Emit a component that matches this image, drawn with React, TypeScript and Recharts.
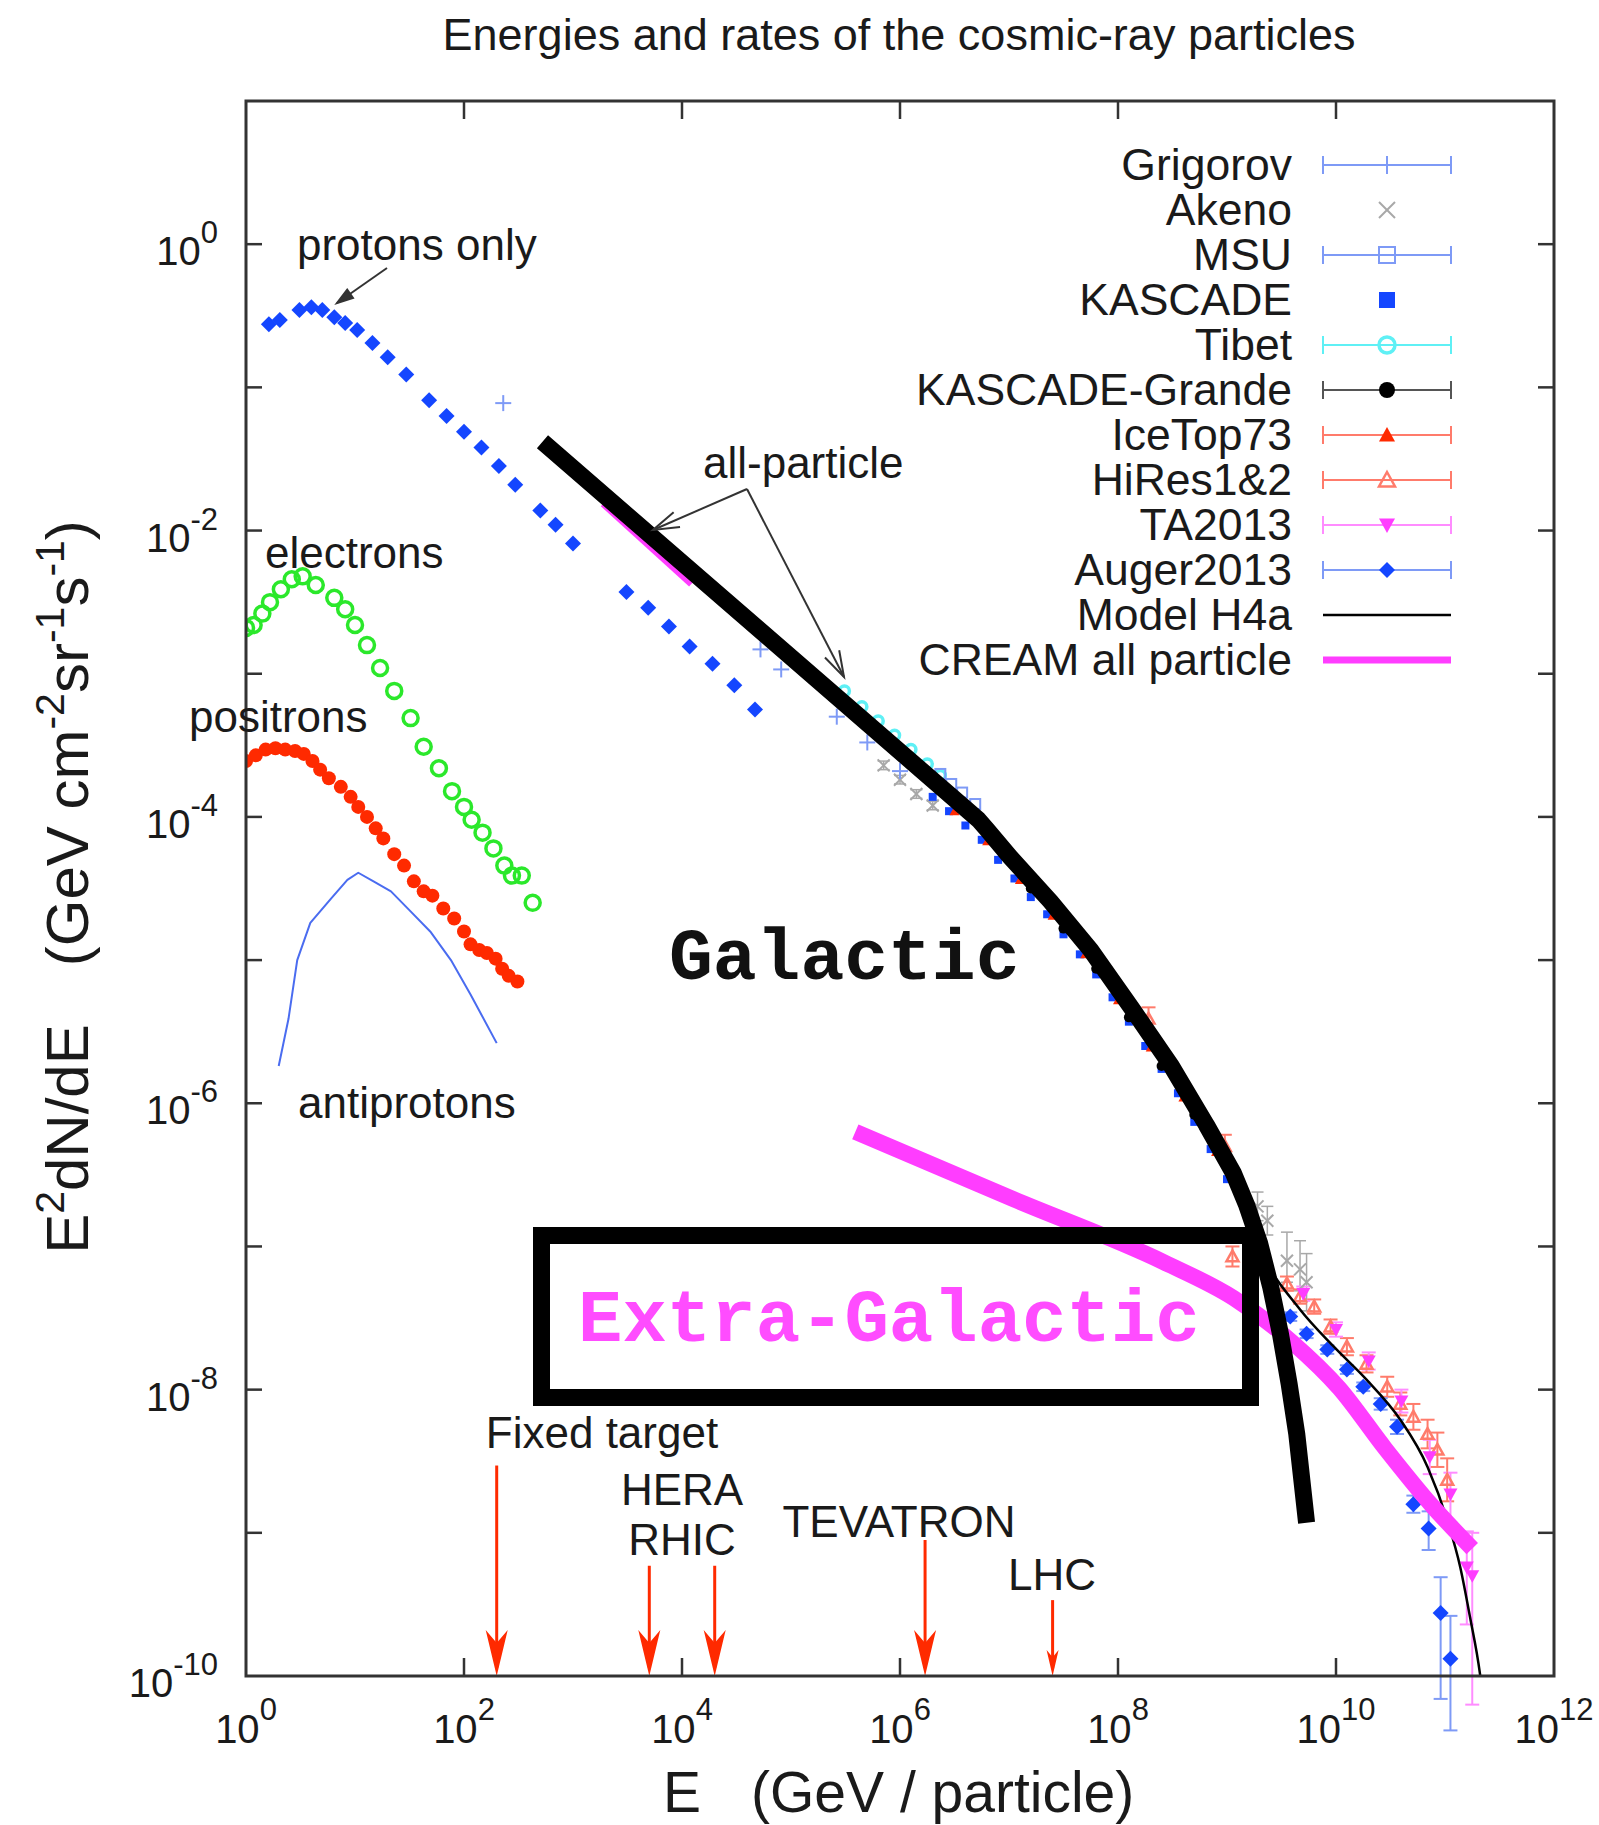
import React from 'react';
import { ComposedChart, Scatter, XAxis, YAxis, ErrorBar, ReferenceLine } from 'recharts';

// every value is a log10 exponent: [log10 E (GeV), log10 E^2 dN/dE, err low, err high]
const protons = [
  [0.21, -0.56], [0.31, -0.53], [0.49, -0.46], [0.6, -0.44], [0.7, -0.46], [0.81, -0.51],
  [0.91, -0.55], [1.02, -0.6], [1.16, -0.69], [1.3, -0.79], [1.47, -0.91], [1.68, -1.09],
  [1.84, -1.2], [2.0, -1.31], [2.16, -1.42], [2.32, -1.55], [2.47, -1.68], [2.7, -1.86],
  [2.84, -1.96], [3.0, -2.09],
  [3.49, -2.43], [3.69, -2.54], [3.88, -2.67], [4.07, -2.81], [4.28, -2.93], [4.48, -3.08], [4.67, -3.25],
];
const electrons = [
  [0.0, -2.68], [0.07, -2.66], [0.15, -2.58], [0.22, -2.5], [0.32, -2.41], [0.42, -2.34],
  [0.52, -2.32], [0.64, -2.38], [0.81, -2.47], [0.91, -2.55], [1.0, -2.66], [1.11, -2.8],
  [1.23, -2.96], [1.36, -3.12], [1.51, -3.31], [1.63, -3.51], [1.77, -3.66], [1.89, -3.82],
  [2.0, -3.93], [2.07, -4.02], [2.17, -4.11], [2.27, -4.22], [2.37, -4.34], [2.44, -4.41],
  [2.53, -4.41], [2.63, -4.6],
];
const positrons = [
  [0.0, -3.61], [0.09, -3.57], [0.18, -3.53], [0.27, -3.52], [0.36, -3.53], [0.45, -3.54],
  [0.53, -3.56], [0.61, -3.61], [0.68, -3.67], [0.76, -3.73], [0.87, -3.79], [0.96, -3.86],
  [1.03, -3.93], [1.11, -4.0], [1.19, -4.08], [1.26, -4.15], [1.36, -4.26], [1.45, -4.34],
  [1.54, -4.45], [1.63, -4.52], [1.71, -4.55], [1.81, -4.64], [1.91, -4.71], [2.0, -4.8],
  [2.06, -4.89], [2.14, -4.93], [2.21, -4.95], [2.29, -4.99], [2.35, -5.06], [2.41, -5.11], [2.49, -5.15],
];
const antiprotons = [
  [0.3, -5.74], [0.39, -5.41], [0.47, -5.0], [0.59, -4.74], [0.78, -4.57], [0.93, -4.44],
  [1.03, -4.39], [1.17, -4.45], [1.33, -4.52], [1.51, -4.66], [1.69, -4.8], [1.88, -5.0],
  [2.06, -5.24], [2.3, -5.58],
];
const allParticle = [
  [2.72, -1.38], [6.72, -4.02], [6.8, -4.09], [7.01, -4.28], [7.38, -4.59], [7.75, -4.93],
  [8.12, -5.33], [8.49, -5.74], [8.81, -6.15], [9.06, -6.49], [9.18, -6.71], [9.3, -6.98],
  [9.4, -7.28], [9.49, -7.61], [9.57, -7.96], [9.64, -8.31], [9.73, -8.93],
];
const modelH4a = [
  [6.72, -4.02], [7.38, -4.59], [8.12, -5.33], [8.81, -6.15], [9.12, -6.68], [9.3, -7.02],
  [9.67, -7.44], [9.98, -7.7], [10.28, -7.93], [10.59, -8.21], [10.84, -8.54], [11.02, -8.91],
  [11.14, -9.24], [11.23, -9.59], [11.32, -9.98], [11.34, -10.1],
];
const extraGalactic = [
  [5.59, -6.2], [7.04, -6.67], [8.42, -7.11], [9.06, -7.36], [9.6, -7.67], [10.03, -7.99],
  [10.45, -8.41], [10.88, -8.81], [11.25, -9.11],
];
const cream = [[3.28, -1.81], [4.09, -2.37]];
const grigorov = [[2.36, -1.11], [4.72, -2.83], [4.91, -2.97], [5.42, -3.3], [5.7, -3.48], [6.0, -3.68]];
const akeno = [
  [5.85, -3.64], [6.0, -3.74], [6.15, -3.84], [6.3, -3.92],
  [9.28, -6.72, 0.1, 0.1], [9.37, -6.82, 0.1, 0.1], [9.55, -7.1, 0.15, 0.2], [9.67, -7.16, 0.15, 0.2], [9.73, -7.25, 0.2, 0.2],
];
const msu = [[6.37, -3.7], [6.47, -3.77], [6.57, -3.83], [6.69, -3.91]];
const tibet = [[5.49, -3.12], [5.65, -3.23], [5.8, -3.33], [5.95, -3.43], [6.1, -3.53], [6.25, -3.63], [6.37, -3.71]];
const kascade = [
  [6.3, -3.86], [6.45, -3.96], [6.6, -4.06], [6.75, -4.16], [6.9, -4.3], [7.05, -4.43],
  [7.2, -4.56], [7.35, -4.68], [7.5, -4.82], [7.65, -4.96], [7.8, -5.1], [7.95, -5.26],
  [8.1, -5.43], [8.25, -5.6], [8.4, -5.76], [8.55, -5.93], [8.7, -6.13], [8.85, -6.32], [9.0, -6.53],
];
const kascadeGrande = [[7.2, -4.5], [7.5, -4.78], [7.8, -5.06], [8.1, -5.4], [8.4, -5.74], [8.7, -6.08]];
const iceTop = [
  [6.5, -3.96], [6.8, -4.17], [7.1, -4.44], [7.4, -4.69], [7.7, -4.96], [8.0, -5.28],
  [8.3, -5.61], [8.6, -5.96], [8.9, -6.34],
];
const hires = [
  [8.28, -5.41, 0.08, 0.08], [8.98, -6.3, 0.08, 0.08], [9.05, -7.07, 0.07, 0.07], [9.55, -7.26, 0.05, 0.05],
  [9.67, -7.35, 0.05, 0.05], [9.8, -7.42, 0.05, 0.05], [9.95, -7.56, 0.05, 0.05], [10.1, -7.7, 0.06, 0.06],
  [10.28, -7.82, 0.06, 0.06], [10.47, -7.98, 0.07, 0.07], [10.59, -8.1, 0.08, 0.08], [10.71, -8.19, 0.09, 0.09],
  [10.84, -8.31, 0.1, 0.1], [10.93, -8.42, 0.12, 0.12], [11.02, -8.63, 0.15, 0.15],
];
const ta2013 = [
  [9.7, -7.33, 0.05, 0.05], [10.0, -7.58, 0.05, 0.05], [10.3, -7.8, 0.06, 0.06], [10.6, -8.08, 0.08, 0.08],
  [10.86, -8.47, 0.12, 0.12], [11.05, -8.73, 0.2, 0.15], [11.2, -9.24, 0.4, 0.25], [11.25, -9.3, 0.9, 0.3],
];
const auger = [
  [9.43, -7.4, 0.03, 0.03], [9.58, -7.49, 0.03, 0.03], [9.73, -7.61, 0.03, 0.03], [9.92, -7.72, 0.03, 0.03],
  [10.1, -7.86, 0.03, 0.03], [10.25, -7.98, 0.03, 0.03], [10.41, -8.1, 0.04, 0.04], [10.56, -8.26, 0.05, 0.05],
  [10.71, -8.8, 0.06, 0.06], [10.85, -8.97, 0.15, 0.12], [10.96, -9.56, 0.6, 0.25], [11.05, -9.88, 0.5, 0.3],
];
const accelerators = [
  { name: 'Fixed target', e: 2.3, top: -8.53 },
  { name: 'HERA', e: 3.7, top: -9.23 },
  { name: 'RHIC', e: 4.3, top: -9.23 },
  { name: 'TEVATRON', e: 6.23, top: -9.05 },
  { name: 'LHC', e: 7.4, top: -9.47 },
];
const xTicks = [0, 2, 4, 6, 8, 10, 12];
const yTicks = [-10, -9, -8, -7, -6, -5, -4, -3, -2, -1, 0];

const BLUE = '#1446ff';
const LIGHTBLUE = '#7e9af6';
const GREEN = '#2be82b';
const RED = '#ff2a00';
const MAGENTA = '#ff3dff';
const CYAN = '#5ff0f5';
const GRAY = '#a8a8a8';
const SALMON = '#ff7b6b';
const PINK = '#ff8cff';
const INK = '#1a1a1a';
const SANS = '"Liberation Sans", Arial, Helvetica, sans-serif';
const MONO = '"Liberation Mono", "Courier New", monospace';

const PL = 246, PR = 1554, PT = 101, PB = 1676;
const W = 1599, H = 1825;

const legendItems = [
  { name: 'Grigorov', bar: LIGHTBLUE, marker: 'tick', color: LIGHTBLUE },
  { name: 'Akeno', marker: 'x', color: GRAY },
  { name: 'MSU', bar: LIGHTBLUE, marker: 'squareOpen', color: LIGHTBLUE },
  { name: 'KASCADE', marker: 'square', color: BLUE },
  { name: 'Tibet', bar: CYAN, marker: 'circleOpen', color: CYAN },
  { name: 'KASCADE-Grande', bar: '#555', marker: 'dot', color: '#000' },
  { name: 'IceTop73', bar: SALMON, marker: 'tri', color: RED },
  { name: 'HiRes1&2', bar: SALMON, marker: 'triOpen', color: SALMON },
  { name: 'TA2013', bar: PINK, marker: 'triDown', color: MAGENTA },
  { name: 'Auger2013', bar: LIGHTBLUE, marker: 'diamond', color: BLUE },
  { name: 'Model H4a', line: '#000', width: 2.5 },
  { name: 'CREAM all particle', line: MAGENTA, width: 7 },
];

const pts = (a: number[][]) => a.map(([x, y, lo, hi]) => ({ x, y, err: [lo ?? 0.03, hi ?? 0.03] }));

function mark(kind: string, cx: number, cy: number, color: string, s: number) {
  switch (kind) {
    case 'diamond':
      return <polygon points={`${cx},${cy - s} ${cx + s},${cy} ${cx},${cy + s} ${cx - s},${cy}`} fill={color} />;
    case 'dot':
      return <circle cx={cx} cy={cy} r={s} fill={color} />;
    case 'circleOpen':
      return <circle cx={cx} cy={cy} r={s} fill="none" stroke={color} strokeWidth={3.5} />;
    case 'square':
      return <rect x={cx - s} y={cy - s} width={2 * s} height={2 * s} fill={color} />;
    case 'squareOpen':
      return <rect x={cx - s} y={cy - s} width={2 * s} height={2 * s} fill="none" stroke={color} strokeWidth={2} />;
    case 'tri':
      return <polygon points={`${cx},${cy - s} ${cx + s},${cy + s * 0.8} ${cx - s},${cy + s * 0.8}`} fill={color} />;
    case 'triOpen':
      return <polygon points={`${cx},${cy - s} ${cx + s},${cy + s * 0.8} ${cx - s},${cy + s * 0.8}`} fill="none" stroke={color} strokeWidth={2.5} />;
    case 'triDown':
      return <polygon points={`${cx},${cy + s} ${cx + s},${cy - s * 0.8} ${cx - s},${cy - s * 0.8}`} fill={color} />;
    case 'x':
      return (
        <g stroke={color} strokeWidth={2}>
          <line x1={cx - s} y1={cy - s} x2={cx + s} y2={cy + s} />
          <line x1={cx - s} y1={cy + s} x2={cx + s} y2={cy - s} />
        </g>
      );
    case 'plus':
      return (
        <g stroke={color} strokeWidth={2}>
          <line x1={cx - s} y1={cy} x2={cx + s} y2={cy} />
          <line x1={cx} y1={cy - s} x2={cx} y2={cy + s} />
        </g>
      );
    case 'tick':
      return <line x1={cx} y1={cy - s} x2={cx} y2={cy + s} stroke={color} strokeWidth={2} />;
    default:
      return <g />;
  }
}

const shapeOf = (kind: string, color: string, s: number) => (p: any) => mark(kind, p.cx, p.cy, color, s);
const noShape = () => <g />;

function XTick(props: any) {
  const { x, payload } = props;
  const n = payload.value;
  return (
    <g>
      <text x={x} y={1743} textAnchor="middle" fontSize={40} fill={INK} fontFamily={SANS}>
        10<tspan dy={-23} fontSize={31}>{n}</tspan>
      </text>
      {n > 0 && n < 12 && (
        <g stroke="#333" strokeWidth={2.5}>
          <line x1={x} y1={PB} x2={x} y2={PB - 18} />
          <line x1={x} y1={PT} x2={x} y2={PT + 18} />
        </g>
      )}
    </g>
  );
}

function YTick(props: any) {
  const { y, payload } = props;
  const n = payload.value;
  return (
    <g>
      {n % 2 === 0 && (
        <text x={218} y={y + 21} textAnchor="end" fontSize={40} fill={INK} fontFamily={SANS}>
          10<tspan dy={-22} fontSize={31}>{n}</tspan>
        </text>
      )}
      {n > -10 && (
        <g stroke="#333" strokeWidth={2.5}>
          <line x1={PL} y1={y} x2={PL + 16} y2={y} />
          <line x1={PR} y1={y} x2={PR - 16} y2={y} />
        </g>
      )}
    </g>
  );
}

function AccelArrow(props: any) {
  const { x1, y1, x2, y2 } = props;
  const big = y2 - y1 > 90;
  const len = big ? 46 : 26;
  const w = big ? 11 : 6;
  return (
    <g>
      <line x1={x1} y1={y1} x2={x2} y2={y2 - 8} stroke={RED} strokeWidth={3} />
      <polygon points={`${x2},${y2} ${x2 - w},${y2 - len} ${x2},${y2 - len * 0.72} ${x2 + w},${y2 - len}`} fill={RED} />
    </g>
  );
}

function Arrow({ x1, y1, x2, y2, len, w, open }: any) {
  const dx = x2 - x1, dy = y2 - y1;
  const d = Math.hypot(dx, dy);
  const ux = dx / d, uy = dy / d;
  const bx = x2 - ux * len, by = y2 - uy * len;
  const ax = bx - uy * w, ay = by + ux * w;
  const cx = bx + uy * w, cy = by - ux * w;
  return (
    <g stroke="#333" strokeWidth={2}>
      <line x1={x1} y1={y1} x2={x2} y2={y2} />
      {open ? (
        <polyline points={`${ax},${ay} ${x2},${y2} ${cx},${cy}`} fill="none" />
      ) : (
        <polygon points={`${ax},${ay} ${x2},${y2} ${cx},${cy}`} fill="#333" />
      )}
    </g>
  );
}

function Overlay() {
  const txt = { fontFamily: SANS, fill: INK, fontSize: 44 } as const;
  return (
    <svg width={W} height={H} style={{ position: 'absolute', left: 0, top: 0, pointerEvents: 'none' }}>
      <text x={899} y={50} textAnchor="middle" {...txt} fontSize={45}>Energies and rates of the cosmic-ray particles</text>
      <rect x={PL} y={PT} width={PR - PL} height={PB - PT} fill="none" stroke="#333" strokeWidth={3} />

      {/* axis titles */}
      <text transform="translate(88, 887) rotate(-90)" textAnchor="middle" fontFamily={SANS} fill={INK} fontSize={60}>
        E<tspan dy={-24} fontSize={41}>2</tspan><tspan dy={24}>dN/dE</tspan>
        <tspan dx={58}>(GeV cm</tspan><tspan dy={-24} fontSize={41}>-2</tspan>
        <tspan dy={24}>sr</tspan><tspan dy={-24} fontSize={41}>-1</tspan>
        <tspan dy={24}>s</tspan><tspan dy={-24} fontSize={41}>-1</tspan><tspan dy={24}>)</tspan>
      </text>
      <text x={663} y={1812} fontFamily={SANS} fill={INK} fontSize={57}>
        E<tspan dx={50}>(GeV / particle)</tspan>
      </text>

      {/* annotations */}
      <text x={297} y={260} {...txt}>protons only</text>
      <Arrow x1={387} y1={268} x2={337} y2={303} len={16} w={5} />
      <text x={265} y={568} {...txt}>electrons</text>
      <text x={189} y={732} {...txt}>positrons</text>
      <text x={298} y={1118} {...txt}>antiprotons</text>
      <text x={703} y={478} {...txt}>all-particle</text>
      <Arrow x1={747} y1={489} x2={653} y2={530} len={26} w={8} open />
      <Arrow x1={747} y1={489} x2={844} y2={677} len={26} w={8} open />
      <text x={669} y={979} fontFamily={MONO} fontWeight="bold" fontSize={73} fill="#111">Galactic</text>
      <rect x={541.5} y={1235.5} width={709} height={162} fill="none" stroke="#000" strokeWidth={17} />
      <text x={578} y={1341} fontFamily={MONO} fontWeight="bold" fontSize={74} fill="#ff4cff">Extra-Galactic</text>

      <text x={602} y={1448} textAnchor="middle" {...txt}>{accelerators[0].name}</text>
      <text x={682} y={1505} textAnchor="middle" {...txt}>{accelerators[1].name}</text>
      <text x={682} y={1555} textAnchor="middle" {...txt}>{accelerators[2].name}</text>
      <text x={899} y={1537} textAnchor="middle" {...txt}>{accelerators[3].name}</text>
      <text x={1052} y={1590} textAnchor="middle" {...txt}>{accelerators[4].name}</text>

      {/* legend */}
      {legendItems.map((it, i) => {
        const cy = 165 + 45 * i;
        return (
          <g key={it.name}>
            <text x={1292} y={cy + 15} textAnchor="end" {...txt} fontSize={44.5}>{it.name}</text>
            {it.bar && (
              <g stroke={it.bar} strokeWidth={2}>
                <line x1={1323} y1={cy} x2={1451} y2={cy} />
                <line x1={1323} y1={cy - 9} x2={1323} y2={cy + 9} />
                <line x1={1451} y1={cy - 9} x2={1451} y2={cy + 9} />
              </g>
            )}
            {it.line && <line x1={1323} y1={cy} x2={1451} y2={cy} stroke={it.line} strokeWidth={it.width} />}
            {it.marker && mark(it.marker, 1387, cy, it.color, it.marker === 'tick' ? 9 : 8)}
          </g>
        );
      })}
    </svg>
  );
}

export default function App() {
  const lineOnly = (data: number[][], stroke: string, width: number, smooth = false) => (
    <Scatter
      data={pts(data)}
      shape={noShape}
      line={{ stroke, strokeWidth: width, strokeLinejoin: 'round' }}
      lineJointType={smooth ? 'monotoneX' : 'linear'}
      isAnimationActive={false}
    />
  );
  return (
    <div style={{ position: 'absolute', left: 0, top: 0, width: W, height: H, background: '#fff' }}>
      <ComposedChart width={W} height={H} margin={{ top: PT, right: W - PR, bottom: 0, left: 0 }}>
        <XAxis type="number" dataKey="x" domain={[0, 12]} ticks={xTicks} interval={0} height={H - PB}
          tick={(p: any) => <XTick {...p} />} tickLine={false} axisLine={false} allowDataOverflow />
        <YAxis type="number" dataKey="y" domain={[-10, 1]} ticks={yTicks} interval={0} width={PL}
          tick={(p: any) => <YTick {...p} />} tickLine={false} axisLine={false} allowDataOverflow />

        <Scatter data={pts(akeno)} shape={shapeOf('x', GRAY, 6)} isAnimationActive={false}>
          <ErrorBar dataKey="err" direction="y" width={6} stroke={GRAY} strokeWidth={1.5} />
        </Scatter>
        <Scatter data={pts(grigorov)} shape={shapeOf('plus', LIGHTBLUE, 8)} isAnimationActive={false} />
        <Scatter data={pts(tibet)} shape={shapeOf('circleOpen', CYAN, 5)} isAnimationActive={false} />
        <Scatter data={pts(msu)} shape={shapeOf('squareOpen', LIGHTBLUE, 5)} isAnimationActive={false} />
        <Scatter data={pts(kascade)} shape={shapeOf('square', BLUE, 4)} isAnimationActive={false} />
        <Scatter data={pts(kascadeGrande)} shape={shapeOf('dot', '#000', 5)} isAnimationActive={false} />
        <Scatter data={pts(iceTop)} shape={shapeOf('tri', RED, 5)} isAnimationActive={false} />
        <Scatter data={pts(hires)} shape={shapeOf('triOpen', SALMON, 6)} isAnimationActive={false}>
          <ErrorBar dataKey="err" direction="y" width={7} stroke={SALMON} strokeWidth={2} />
        </Scatter>
        <Scatter data={pts(ta2013)} shape={shapeOf('triDown', MAGENTA, 7)} isAnimationActive={false}>
          <ErrorBar dataKey="err" direction="y" width={7} stroke={PINK} strokeWidth={2} />
        </Scatter>
        <Scatter data={pts(auger)} shape={shapeOf('diamond', BLUE, 8)} isAnimationActive={false}>
          <ErrorBar dataKey="err" direction="y" width={7} stroke={LIGHTBLUE} strokeWidth={2} />
        </Scatter>

        {lineOnly(cream, MAGENTA, 8)}
        {lineOnly(modelH4a, '#000', 2.5, true)}
        {lineOnly(antiprotons, '#4a6cf0', 2)}

        <Scatter data={pts(protons)} shape={shapeOf('diamond', BLUE, 8)} isAnimationActive={false} />
        <Scatter data={pts(electrons)} shape={shapeOf('circleOpen', GREEN, 7.5)} isAnimationActive={false} />
        <Scatter data={pts(positrons)} shape={shapeOf('dot', RED, 7)} isAnimationActive={false} />

        {lineOnly(extraGalactic, MAGENTA, 16, true)}
        {lineOnly(allParticle, '#000', 17)}

        {accelerators.map((a) => (
          <ReferenceLine key={a.name} segment={[{ x: a.e, y: a.top }, { x: a.e, y: -10 }]}
            shape={(p: any) => <AccelArrow {...p} />} ifOverflow="visible" />
        ))}
      </ComposedChart>
      <Overlay />
    </div>
  );
}
